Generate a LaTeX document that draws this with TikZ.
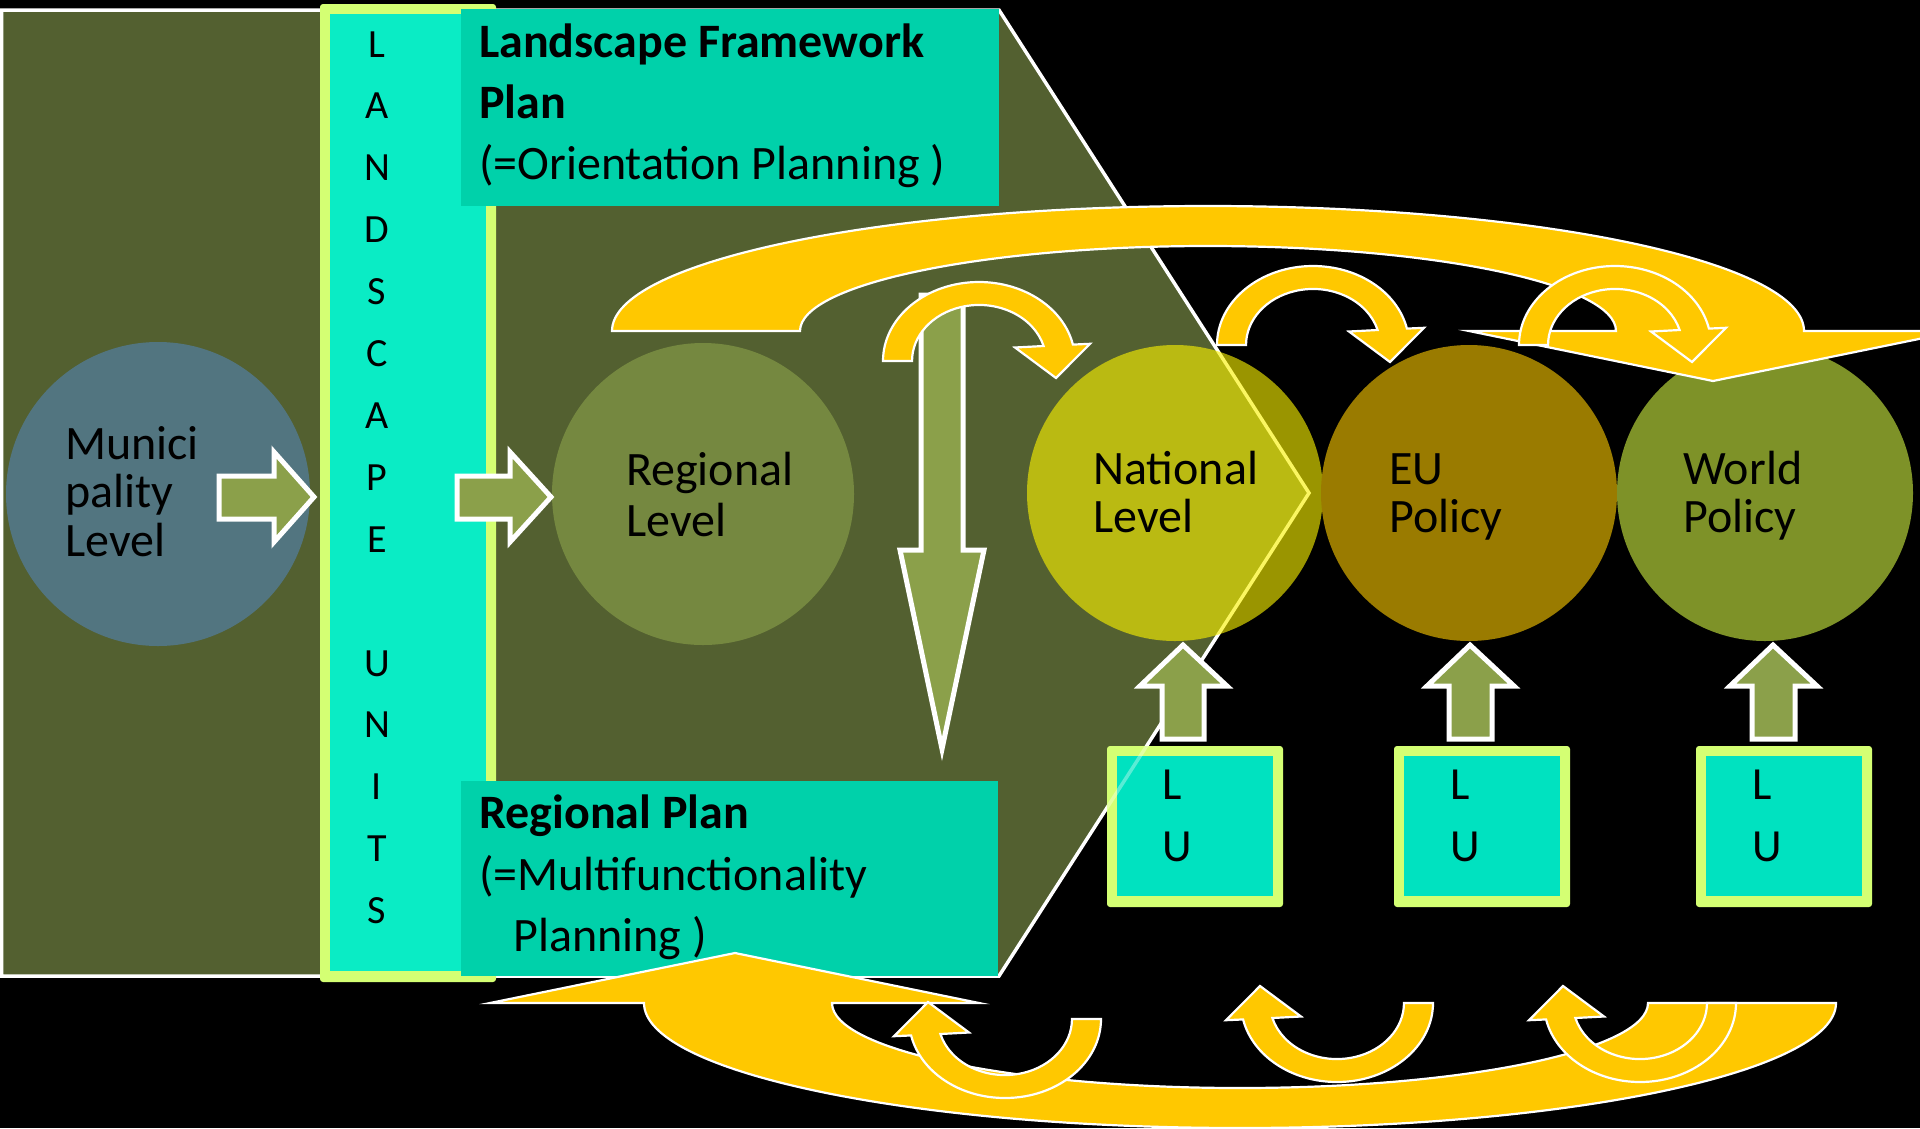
\documentclass[tikz,border=0pt]{standalone}
\usepackage{fontspec}
\setmainfont{Carlito}
\definecolor{panel}{RGB}{83,96,48}
\definecolor{muni}{RGB}{82,117,128}
\definecolor{regc}{RGB}{117,136,64}
\definecolor{arrg}{RGB}{139,160,74}
\definecolor{lime}{RGB}{212,255,115}
\definecolor{barteal}{RGB}{10,236,197}
\definecolor{boxteal}{RGB}{0,209,170}
\definecolor{luteal}{RGB}{0,226,192}
\definecolor{gold}{RGB}{255,200,0}
\definecolor{natc}{RGB}{250,242,0}
\definecolor{euc}{RGB}{154,123,0}
\definecolor{worldc}{RGB}{126,146,40}
\begin{document}
\begin{tikzpicture}[x=1pt,y=-1pt,
  txt/.style={font=\fontsize{48}{52}\selectfont, text=black, inner sep=0pt, anchor=base west},
  btxt/.style={font=\fontsize{48}{52}\selectfont\bfseries, text=black, inner sep=0pt, anchor=base west},
  lettr/.style={font=\fontsize{40}{42}\selectfont, text=black, inner sep=0pt, anchor=base},
  lutxt/.style={font=\fontsize{46}{48}\selectfont, text=black, inner sep=0pt, anchor=base west},
  disc/.style={circle, inner sep=0pt, draw=none},
  blockarrow/.style={fill=arrg, draw=white, line width=5pt, line join=miter},
  goldarrow/.style={fill=gold, draw=white, line width=2.2pt, line join=miter},
  smallarrow/.pic={\draw[goldarrow] (-96,0) arc[start angle=180,end angle=348,x radius=96,y radius=79]
      -- (111,-17.2) -- (77,17) -- (36,-13.5) -- (64.6,-15)
      arc[start angle=344.5,end angle=180,x radius=67,y radius=56] -- cycle;},
  bigarrow/.pic={\draw[goldarrow] (-596,0) arc[start angle=180,end angle=360,x radius=596,y radius=125]
      -- (750,0) -- (505,50) -- (261,0) -- (408,0)
      arc[start angle=360,end angle=180,x radius=408,y radius=85] -- cycle;},
  lubox/.pic={\fill[lime, rounded corners=3pt] (0,0) rectangle (176,161);
      \fill[luteal] (10,10) rectangle (166,150);}
]
\useasboundingbox (0,0) rectangle (1920,1128);
\fill[black] (0,0) rectangle (1920,1128);

% panel
\draw[fill=panel, draw=white, line width=3.5pt] (1.5,10) -- (999,10) -- (1309,493) -- (999,976) -- (1.5,976) -- cycle;

% landscape units bar
\fill[lime, rounded corners=3pt] (320,4) rectangle (496,982);
\fill[barteal] (330,14) rectangle (486,971);

% plan boxes
\fill[boxteal] (461,9) rectangle (999,206);
\fill[boxteal] (461,781) rectangle (998,976);

% circles
\node[disc, fill=muni, minimum size=304pt] (muni) at (158,494) {};
\node[disc, fill=regc, minimum size=302pt] (reg) at (703,494) {};
\node[disc, fill=natc, fill opacity=0.62, minimum size=296pt] (nat) at (1175,493) {};
\node[disc, fill=euc, minimum size=296pt] (eu) at (1469,493) {};
\node[disc, fill=worldc, minimum size=296pt] (world) at (1765,493) {};

% green block arrows
\draw[blockarrow] (219,476) -- (274,476) -- (274,452) -- (314,497) -- (274,542) -- (274,519) -- (219,519) -- cycle;
\draw[blockarrow] (457,476) -- (510,476) -- (510,452) -- (551,497) -- (510,542) -- (510,519) -- (457,519) -- cycle;
\draw[blockarrow] (921,295) -- (963,295) -- (963,550) -- (984,550) -- (942,749) -- (900,550) -- (921,550) -- cycle;

% yellow arrows
\pic at (1208,331) {bigarrow};
\pic[rotate=180] at (1240,1003) {bigarrow};
\pic at (979,361) {smallarrow};
\pic at (1313,345) {smallarrow};
\pic at (1615,345) {smallarrow};
\pic[rotate=180] at (1005,1019) {smallarrow};
\pic[rotate=180] at (1337,1003) {smallarrow};
\pic[rotate=180] at (1640,1003) {smallarrow};

% LU boxes
\pic at (1107,746) {lubox};
\pic at (1394,746) {lubox};
\pic at (1696,746) {lubox};
\begin{scope}
\clip (1107,746) rectangle (1283,907);
\draw[white, opacity=0.35, line width=3.5pt] (1309,493) -- (999,976);
\end{scope}

% up arrows
\draw[blockarrow] (1162,739) -- (1162,686) -- (1140,686) -- (1183,645) -- (1227,686) -- (1204,686) -- (1204,739) -- cycle;
\draw[blockarrow] (1449,739) -- (1449,686) -- (1427,686) -- (1470,645) -- (1514,686) -- (1492,686) -- (1492,739) -- cycle;
\draw[blockarrow] (1752,739) -- (1752,686) -- (1730,686) -- (1773,645) -- (1817,686) -- (1795,686) -- (1795,739) -- cycle;

% texts
\node[txt] (t1) at (65,459) {Munici};
\node[txt] (t2) at (65,507) {pality};
\node[txt] (t3) at (65,556) {Level};
\node[txt] (t4) at (626,485) {Regional};
\node[txt] (t5) at (626,536) {Level};
\node[txt] (t6) at (1093,484) {National};
\node[txt] (t7) at (1093,532) {Level};
\node[txt] (t8) at (1389,484) {EU};
\node[txt] (t9) at (1389,532) {Policy};
\node[txt] (t10) at (1683,484) {World};
\node[txt] (t11) at (1683,532) {Policy};

\node[btxt] (f1) at (479,57) {Landscape Framework};
\node[btxt] (f2) at (479,118) {Plan};
\node[txt] (f3) at (479,179) {(=Orientation Planning )};
\node[btxt] (r1) at (479,828) {Regional Plan};
\node[txt] (r2) at (479,890) {(=Multifunctionality};
\node[txt] (r3) at (513,951) {Planning )};

\foreach \ch [count=\k from 0] in {L,A,N,D,S,C,A,P,E,{},U,N,I,T,S}
  \node[lettr] (lu\k) at (377,57+61.9*\k) {\ch};

\foreach \bx [count=\j] in {1162,1450,1752} {
  \node[lutxt] (la\j) at (\bx,799) {L};
  \node[lutxt] (lb\j) at (\bx,861) {U};
}
\end{tikzpicture}
\end{document}
